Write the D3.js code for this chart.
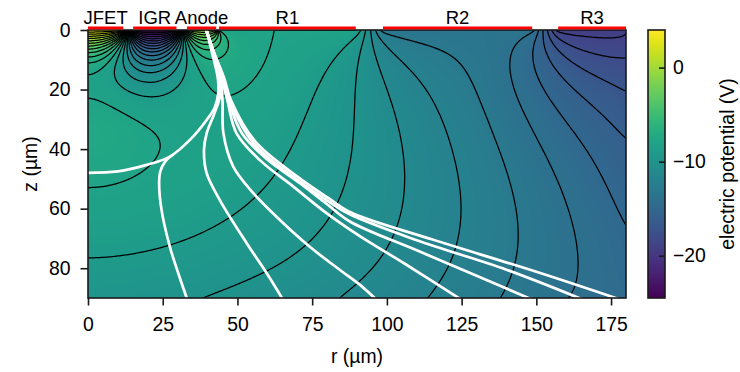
<!DOCTYPE html>
<html><head><meta charset="utf-8">
<script src="https://cdn.jsdelivr.net/npm/d3@7"></script>
<style>
body{margin:0;background:#fff}
text{font-family:"Liberation Sans",Arial,Helvetica,sans-serif}
</style>
</head><body>
<svg id="chart" width="740" height="372"></svg>
<script>
// ---------------- data ----------------
const electrodeNames = ["JFET", "IGR", "Anode", "R1", "R2", "R3"];
const electrodeStart = [0, 15.1, 33.1, 43.8, 98.7, 157.3];      // µm
const electrodeEnd   = [11.8, 29.6, 42.9, 89.6, 148.6, 180];     // µm
const electrodeVolts = [4.0, -24.5, 0.0, -8.0, -13.5, -19.5];    // V

// potential along the lower edge of the view (z = 90 µm)
const bottomR = [0, 38.6, 84.3, 113.7, 138, 160.6, 180];
const bottomV = [-9.6, -10, -11, -12, -13, -14, -14.6];
// potential along the right edge of the view (r = 180 µm)
const rightZ = [0, 1.1, 9.3, 20.5, 36.3, 65.5, 90];
const rightV = [-19.5, -19, -18, -17, -16, -15, -14.6];
// bulk space charge (V/µm²); extra charge under the JFET: centre z, widths in r and z (µm)
const bulkCharge = [0.0016];
const wellShape = [30, 20, 12];
// points of contour lines near the JFET: r, z, level
const anchorR = [0, 11.8, 19.6, 26.3, 45.8, 0, 39.7];
const anchorZ = [28, 29.1, 28, 23.5, 24, 70, 61.6];
const anchorV = [-8, -8, -8, -8, -8, -9, -9];

const contourLevels = d3.range(-24, 4, 1);
const xTicks = [0, 25, 50, 75, 100, 125, 150, 175];
const yTicks = [0, 20, 40, 60, 80];
const cbTicks = [0, -10, -20];
const colorDomain = [-24.5, 4.0];

// electron drift paths (r, z) in µm
const driftA = [[39.6,0],[41.6,8],[43.4,16],[43.6,21],[42.4,26],[39.7,30.2],[34.1,36.9],[27.4,42.5],[19.6,45.3],[10,47.5],[0,48]];
const driftB = [[28.5,41.8],[25.8,44.2],[24.2,47.5],[23.8,51.5],[24.6,60.4],[27.4,72.8],[30.2,81.7],[33.2,90.5]];
const driftC = [[39.6,0],[41.8,8],[43.8,16],[44.2,22],[42.3,28],[39.7,34.7],[38.8,40.3],[39.7,48.1],[44.1,57.1],[53.1,71.6],[59.8,81.7],[65.2,90.5]];
const driftD = [[39.6,0],[42,8],[44.3,16],[45,23.5],[45.3,34.7],[48.6,45.9],[55.3,54.8],[64.2,63.8],[74.2,72.8],[84.3,80.6],[91,85.6],[96.4,90.5]];
const driftE = [[39.6,0],[42.1,8],[44.7,16],[46.6,23.5],[49.7,34.7],[57.5,43.7],[68.7,52.6],[79.8,61.5],[91.2,69.4],[106,78.5],[124.8,90.5]];
const driftF = [[39.6,0],[42.2,8],[45,16],[47,23.5],[51.5,34.7],[60,43.5],[71,51.5],[80,58.5],[87.6,64.3],[110,74],[130,82.5],[148.5,90.5]];
const driftG = [[39.6,0],[42.3,8],[45.3,16],[47.4,23.5],[55.3,38],[68.7,49.3],[79.8,57.1],[87.6,61.9],[110,70.6],[140,80.5],[165.5,90.5]];
const driftH = [[39.6,0],[42.3,8],[45.5,16],[47.8,23.5],[56,37.5],[69.5,48.8],[80.5,56.5],[88,61.3],[115,70.3],[150,81.2],[178,90.5]];
const driftLines = [driftA, driftB, driftC, driftD, driftE, driftF, driftG, driftH];

// ---------------- layout ----------------
const svg = d3.select("#chart");
const plotL = 88, plotR = 626, plotT = 30, plotB = 298;
const x = d3.scaleLinear().domain([0, 180]).range([plotL, plotR]);
const y = d3.scaleLinear().domain([0, 90]).range([plotT, plotB]);
const color = d3.scaleSequential(d3.interpolateViridis).domain(colorDomain);
const FS = "19.4px";

// ---------------- potential field (Poisson, cylindrical) ----------------
const h = 0.5;
const nr = Math.round(180 / h) + 1, nz = Math.round(90 / h) + 1;
function interp(xs, vs, t) {
  if (t <= xs[0]) return vs[0];
  for (let k = 1; k < xs.length; k++) if (t <= xs[k]) return vs[k-1] + (vs[k]-vs[k-1]) * (t - xs[k-1]) / (xs[k] - xs[k-1]);
  return vs[vs.length - 1];
}
function topPotential(r) {
  const n = electrodeStart.length;
  for (let k = 0; k < n; k++) {
    if (r >= electrodeStart[k] && r <= electrodeEnd[k]) return electrodeVolts[k];
    if (k < n - 1 && r > electrodeEnd[k] && r < electrodeStart[k+1]) {
      const t = (r - electrodeEnd[k]) / (electrodeStart[k+1] - electrodeEnd[k]);
      return electrodeVolts[k] + t * (electrodeVolts[k+1] - electrodeVolts[k]);
    }
  }
  return electrodeVolts[n - 1];
}
const cp = new Float64Array(nr), cm = new Float64Array(nr);
for (let i = 1; i < nr; i++) { cp[i] = (1 + 1/(2*i)) / 4; cm[i] = (1 - 1/(2*i)) / 4; }
function solve(withBC, srcFn) {
  const f = new Float64Array(nr * nz), src = new Float64Array(nr * nz);
  for (let j = 0; j < nz; j++) for (let i = 0; i < nr; i++) src[j*nr + i] = srcFn(i*h, j*h) * h * h;
  if (withBC) {
    for (let j = 0; j < nz; j++) { const t = j / (nz - 1);
      for (let i = 0; i < nr; i++) f[j*nr + i] = (1 - t) * topPotential(i*h) + t * interp(bottomR, bottomV, i*h); }
    for (let i = 0; i < nr; i++) { f[i] = topPotential(i*h); f[(nz-1)*nr + i] = interp(bottomR, bottomV, i*h); }
    for (let j = 0; j < nz; j++) f[j*nr + nr - 1] = interp(rightZ, rightV, j*h);
  }
  const omega = 1.965;
  for (let it = 0; it < 3000; it++) {
    for (let j = 1; j < nz - 1; j++) {
      const row = j * nr; let k = row;
      let nv = (4*f[k+1] + f[k-nr] + f[k+nr] + src[k]) / 6;
      f[k] += omega * (nv - f[k]);
      for (let i = 1; i < nr - 1; i++) {
        k = row + i;
        nv = cp[i]*f[k+1] + cm[i]*f[k-1] + 0.25*(f[k-nr] + f[k+nr] + src[k]);
        f[k] += omega * (nv - f[k]);
      }
    }
  }
  return f;
}
function sample(f, r, z) {
  const fi = Math.max(0, Math.min(nr - 1.0001, r / h)), fj = Math.max(0, Math.min(nz - 1.0001, z / h));
  const i = Math.floor(fi), j = Math.floor(fj), a = fi - i, b = fj - j, k = j*nr + i;
  return (1-a)*(1-b)*f[k] + a*(1-b)*f[k+1] + (1-a)*b*f[k+nr] + a*b*f[k+nr+1];
}
const baseField = solve(true, () => bulkCharge[0]);
const wellField = solve(false, (r, z) => Math.exp(-((r / wellShape[1]) ** 2) - (((z - wellShape[0]) / wellShape[2]) ** 2)));
let num = 0, den = 0;
anchorR.forEach((r, k) => {
  const g = sample(wellField, r, anchorZ[k]), b = sample(baseField, r, anchorZ[k]);
  num += g * (anchorV[k] - b); den += g * g;
});
const wellCharge = Math.max(0, num / den);
const phi = new Float64Array(nr * nz);
for (let k = 0; k < phi.length; k++) phi[k] = baseField[k] + wellCharge * wellField[k];
const phiAt = (r, z) => sample(phi, r, z);

// ---------------- heat map ----------------
const defs = svg.append("defs");
defs.append("clipPath").attr("id", "plotClip").append("rect")
  .attr("x", plotL).attr("y", plotT).attr("width", plotR - plotL).attr("height", plotB - plotT);
const cw = plotR - plotL, ch = plotB - plotT;
const canvas = document.createElement("canvas");
canvas.width = cw; canvas.height = ch;
const ctx = canvas.getContext("2d");
const img = ctx.createImageData(cw, ch);
const LUT = d3.range(1024).map(k => d3.rgb(color(colorDomain[0] + (colorDomain[1]-colorDomain[0]) * k / 1023)));
for (let py = 0; py < ch; py++) {
  const z = y.invert(plotT + py + 0.5);
  for (let px = 0; px < cw; px++) {
    const r = x.invert(plotL + px + 0.5);
    let t = Math.round((phiAt(r, z) - colorDomain[0]) / (colorDomain[1] - colorDomain[0]) * 1023);
    t = Math.max(0, Math.min(1023, t));
    const c = LUT[t], o = 4 * (py * cw + px);
    img.data[o] = c.r; img.data[o+1] = c.g; img.data[o+2] = c.b; img.data[o+3] = 255;
  }
}
ctx.putImageData(img, 0, 0);
svg.append("image").attr("x", plotL).attr("y", plotT).attr("width", cw).attr("height", ch)
  .attr("preserveAspectRatio", "none").attr("href", canvas.toDataURL());

// ---------------- contour lines ----------------
const P = 3, PW = nr + 2*P, PH = nz + 2*P;
const padded = new Float64Array(PW * PH);
for (let j = 0; j < PH; j++) for (let i = 0; i < PW; i++) {
  const ii = Math.min(nr - 1, Math.max(0, i - P)), jj = Math.min(nz - 1, Math.max(0, j - P));
  padded[j*PW + i] = phi[jj*nr + ii];
}
const contours = d3.contours().size([PW, PH]).thresholds(contourLevels)(padded);
const proj = d3.geoTransform({ point(X, Y) { this.stream.point(x((X - P - 0.5) * h), y((Y - P - 0.5) * h)); } });
const cpath = d3.geoPath(proj);
const gPlot = svg.append("g").attr("clip-path", "url(#plotClip)");
gPlot.selectAll("path.contour").data(contours).join("path")
  .attr("class", "contour").attr("d", cpath)
  .attr("fill", "none").attr("stroke", "#000").attr("stroke-width", 1.25);

// ---------------- drift lines ----------------
const line = d3.line().x(d => x(d[0])).y(d => y(d[1])).curve(d3.curveCatmullRom.alpha(0.5));
gPlot.selectAll("path.drift").data(driftLines).join("path")
  .attr("class", "drift").attr("d", line)
  .attr("fill", "none").attr("stroke", "#fff").attr("stroke-width", 2.7);

// ---------------- frame & axes ----------------
svg.append("rect").attr("x", plotL).attr("y", plotT).attr("width", cw).attr("height", ch)
  .attr("fill", "none").attr("stroke", "#1a1a1a").attr("stroke-width", 1.6);
const xAxis = svg.append("g").attr("transform", `translate(0,${plotB})`)
  .call(d3.axisBottom(x).tickValues(xTicks).tickSize(7.5).tickPadding(12).tickFormat(d3.format("d")));
const yAxis = svg.append("g").attr("transform", `translate(${plotL},0)`)
  .call(d3.axisLeft(y).tickValues(yTicks).tickSize(7.5).tickPadding(10).tickFormat(d3.format("d")));
[xAxis, yAxis].forEach(g => {
  g.select(".domain").remove();
  g.selectAll(".tick line").attr("stroke", "#1a1a1a").attr("stroke-width", 1.6);
  g.selectAll(".tick text").attr("fill", "#000").style("font-size", FS).style("font-family", '"Liberation Sans",Arial,sans-serif');
});
svg.append("text").attr("x", (plotL + plotR) / 2).attr("y", 363).attr("text-anchor", "middle")
  .style("font-size", FS).text("r (µm)");
svg.append("text").attr("transform", `translate(37,${(plotT + plotB) / 2}) rotate(-90)`).attr("text-anchor", "middle")
  .style("font-size", FS).text("z (µm)");

// ---------------- electrodes ----------------
electrodeNames.forEach((name, k) => {
  svg.append("rect").attr("x", x(electrodeStart[k])).attr("y", 26.5)
    .attr("width", x(electrodeEnd[k]) - x(electrodeStart[k])).attr("height", 2.8).attr("fill", "#ff0000");
  svg.append("text").attr("x", x((electrodeStart[k] + electrodeEnd[k]) / 2)).attr("y", 24)
    .attr("text-anchor", "middle").style("font-size", "18.5px").text(name);
});

// ---------------- colour bar ----------------
const cbL = 648, cbW = 17;
const cbY = d3.scaleLinear().domain(colorDomain).range([plotB, plotT]);
const grad = defs.append("linearGradient").attr("id", "cbGrad").attr("x1", 0).attr("y1", 1).attr("x2", 0).attr("y2", 0);
d3.range(0, 1.0001, 0.05).forEach(t => {
  grad.append("stop").attr("offset", t).attr("stop-color", color(colorDomain[0] + t * (colorDomain[1] - colorDomain[0])));
});
svg.append("rect").attr("x", cbL).attr("y", plotT).attr("width", cbW).attr("height", ch)
  .attr("fill", "url(#cbGrad)").attr("stroke", "#1a1a1a").attr("stroke-width", 1.6);
const cbAxis = svg.append("g").attr("transform", `translate(${cbL + cbW},0)`)
  .call(d3.axisRight(cbY).tickValues(cbTicks).tickSize(-6).tickPadding(8).tickFormat(d3.format("d")));
cbAxis.select(".domain").remove();
cbAxis.selectAll(".tick line").attr("stroke", "#1a1a1a").attr("stroke-width", 1.6);
cbAxis.selectAll(".tick text").attr("fill", "#000").style("font-size", FS).style("font-family", '"Liberation Sans",Arial,sans-serif');
svg.append("text").attr("transform", `translate(734,${(plotT + plotB) / 2}) rotate(-90)`).attr("text-anchor", "middle")
  .style("font-size", FS).text("electric potential (V)");
</script>
</body></html>
